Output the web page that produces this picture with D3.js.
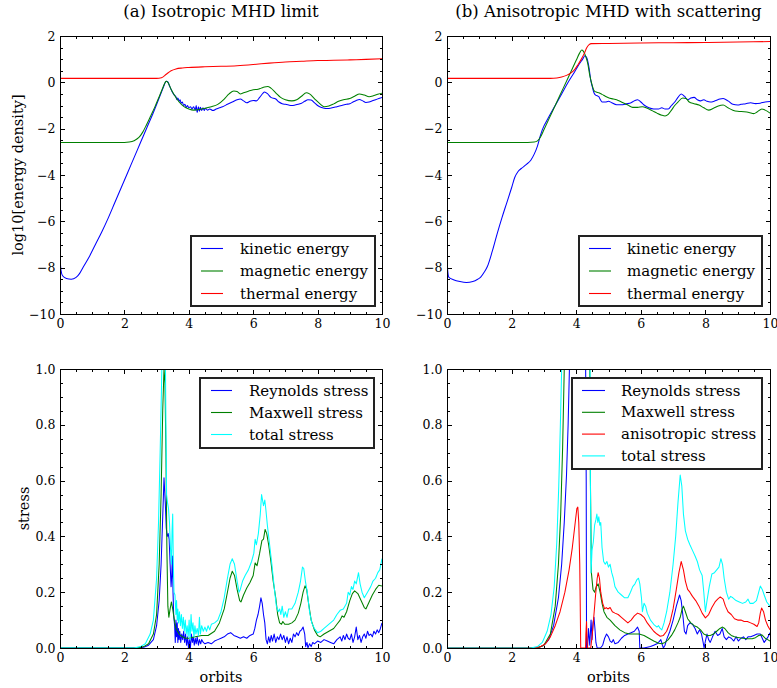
<!DOCTYPE html>
<html>
<head>
<meta charset="utf-8">
<script src="https://cdn.jsdelivr.net/npm/d3@7/dist/d3.min.js"></script>
<style>
  html, body { margin: 0; padding: 0; background: #fff; }
  svg { display: block; font-family: "DejaVu Serif", serif; }
</style>
</head>
<body>
<svg id="fig" width="777" height="688"></svg>
<script>
// ---- axis ticks ----
const orbitTicks = [0, 2, 4, 6, 8, 10];
const orbitTickLabels = ["0", "2", "4", "6", "8", "10"];
const energyTicks = [-10, -8, -6, -4, -2, 0, 2];
const energyTickLabels = ["\u221210", "\u22128", "\u22126", "\u22124", "\u22122", "0", "2"];
const stressTicks = [0, 0.2, 0.4, 0.6, 0.8, 1.0];
const stressTickLabels = ["0.0", "0.2", "0.4", "0.6", "0.8", "1.0"];

// ---- (a) isotropic run: log10 energy density vs orbits ----
const isoKinetic = [[0,-7.6],[0.03,-8.1],[0.08,-8.35],[0.2,-8.47],[0.35,-8.5],[0.5,-8.42],[0.6,-8.27],[0.71,-8.0],[0.9,-7.55],[1.1,-7.0],[1.3,-6.45],[1.5,-5.85],[1.7,-5.2],[1.9,-4.55],[2.1,-3.9],[2.3,-3.25],[2.5,-2.6],[2.7,-1.95],[2.9,-1.3],[3.1,-0.6],[3.2,-0.25],[3.3,0.05],[3.35,0.02],[3.4,-0.15],[3.5,-0.45],[3.55,-0.55],[3.6,-0.62],[3.63,-0.75],[3.66,-0.68],[3.7,-0.82],[3.73,-0.75],[3.76,-0.9],[3.8,-0.85],[3.84,-1.0],[3.88,-0.95],[3.92,-1.08],[3.96,-1.0],[4.0,-1.1],[4.05,-1.05],[4.1,-1.15],[4.15,-1.05],[4.2,-1.2],[4.23,-1.0],[4.26,-1.3],[4.3,-1.05],[4.33,-1.25],[4.36,-1.08],[4.4,-1.22],[4.44,-1.1],[4.48,-1.22],[4.52,-1.12],[4.58,-1.2],[4.65,-1.15],[4.75,-1.22],[4.85,-1.15],[4.95,-1.1],[5.05,-1.05],[5.2,-0.95],[5.35,-0.85],[5.5,-0.75],[5.6,-0.72],[5.7,-0.8],[5.8,-0.88],[5.9,-0.82],[6.0,-0.78],[6.1,-0.8],[6.2,-0.65],[6.3,-0.48],[6.35,-0.42],[6.45,-0.5],[6.55,-0.65],[6.7,-0.72],[6.8,-0.85],[6.9,-0.92],[7.0,-0.95],[7.1,-0.98],[7.2,-1.0],[7.3,-0.98],[7.4,-0.95],[7.5,-0.9],[7.6,-0.82],[7.7,-0.75],[7.8,-0.76],[7.9,-0.88],[8.0,-1.0],[8.1,-1.08],[8.2,-1.12],[8.3,-1.13],[8.45,-1.1],[8.6,-1.05],[8.75,-1.0],[8.9,-0.95],[9.0,-0.92],[9.1,-0.85],[9.2,-0.78],[9.3,-0.74],[9.4,-0.8],[9.5,-0.87],[9.6,-0.85],[9.7,-0.8],[9.8,-0.75],[9.9,-0.7],[10,-0.65]];
const isoMagnetic = [[0,-2.6],[1.0,-2.6],[2.0,-2.6],[2.15,-2.58],[2.3,-2.52],[2.45,-2.38],[2.57,-2.15],[2.68,-1.85],[2.8,-1.5],[2.95,-1.05],[3.08,-0.62],[3.18,-0.28],[3.26,-0.02],[3.3,0.05],[3.35,0.0],[3.45,-0.3],[3.55,-0.55],[3.7,-0.85],[3.85,-1.05],[4.0,-1.15],[4.15,-1.2],[4.3,-1.18],[4.5,-1.12],[4.7,-1.05],[4.9,-0.95],[5.1,-0.72],[5.25,-0.5],[5.4,-0.37],[5.5,-0.4],[5.6,-0.5],[5.7,-0.45],[5.85,-0.38],[6.0,-0.32],[6.15,-0.3],[6.25,-0.25],[6.35,-0.2],[6.45,-0.18],[6.55,-0.25],[6.7,-0.45],[6.85,-0.65],[7.0,-0.75],[7.2,-0.8],[7.35,-0.75],[7.5,-0.6],[7.65,-0.45],[7.75,-0.5],[7.9,-0.7],[8.05,-0.9],[8.2,-1.05],[8.35,-1.02],[8.5,-0.93],[8.65,-0.82],[8.8,-0.75],[9.0,-0.7],[9.15,-0.6],[9.3,-0.5],[9.45,-0.55],[9.6,-0.62],[9.75,-0.57],[9.9,-0.5],[10,-0.47]];
const isoThermal = [[0,0.17],[3.0,0.17],[3.15,0.2],[3.3,0.35],[3.45,0.5],[3.6,0.58],[3.8,0.62],[4.0,0.64],[4.5,0.67],[5.0,0.69],[5.5,0.72],[6.0,0.77],[6.5,0.83],[7.0,0.88],[7.5,0.91],[8.0,0.94],[8.5,0.95],[9.0,0.97],[9.5,0.99],[10,1.02]];

// ---- (b) anisotropic run with scattering ----
const anisoKinetic = [[0,-6.7],[0.02,-8.1],[0.06,-8.42],[0.2,-8.52],[0.4,-8.6],[0.6,-8.64],[0.8,-8.6],[0.95,-8.5],[1.05,-8.4],[1.15,-8.2],[1.25,-7.95],[1.4,-7.3],[1.55,-6.55],[1.7,-5.85],[1.85,-5.2],[2.0,-4.55],[2.1,-4.1],[2.2,-3.85],[2.3,-3.72],[2.45,-3.55],[2.6,-3.35],[2.7,-3.1],[2.8,-2.75],[2.88,-2.35],[2.95,-2.05],[3.15,-1.5],[3.35,-1.0],[3.55,-0.5],[3.75,0.0],[3.95,0.45],[4.1,0.8],[4.2,1.0],[4.27,1.15],[4.33,1.05],[4.4,0.6],[4.45,0.1],[4.5,-0.2],[4.55,-0.45],[4.6,-0.55],[4.65,-0.58],[4.7,-0.62],[4.75,-0.75],[4.8,-0.85],[4.9,-0.85],[5.0,-0.82],[5.1,-0.88],[5.25,-0.97],[5.4,-0.97],[5.55,-0.93],[5.7,-0.88],[5.8,-0.8],[5.9,-0.75],[6.0,-0.85],[6.1,-0.98],[6.25,-1.1],[6.4,-1.15],[6.55,-1.15],[6.65,-1.1],[6.75,-1.15],[6.85,-1.15],[6.95,-1.0],[7.05,-0.85],[7.15,-0.65],[7.25,-0.5],[7.35,-0.6],[7.45,-0.75],[7.55,-0.68],[7.65,-0.65],[7.75,-0.75],[7.85,-0.8],[7.95,-0.75],[8.05,-0.82],[8.15,-0.85],[8.3,-0.8],[8.45,-0.72],[8.55,-0.7],[8.7,-0.8],[8.85,-0.95],[9.0,-0.98],[9.1,-0.95],[9.25,-0.92],[9.4,-0.88],[9.55,-0.92],[9.7,-0.9],[9.85,-0.85],[10,-0.83]];
const anisoMagnetic = [[0,-2.6],[2.5,-2.6],[2.7,-2.58],[2.8,-2.53],[2.9,-2.35],[3.0,-2.05],[3.15,-1.6],[3.3,-1.15],[3.45,-0.7],[3.6,-0.25],[3.75,0.2],[3.9,0.65],[4.0,0.95],[4.1,1.25],[4.17,1.4],[4.22,1.35],[4.3,1.1],[4.36,0.8],[4.42,0.3],[4.5,-0.15],[4.55,-0.35],[4.62,-0.42],[4.7,-0.45],[4.8,-0.52],[4.9,-0.6],[5.0,-0.67],[5.15,-0.72],[5.3,-0.78],[5.45,-0.88],[5.6,-0.98],[5.75,-1.08],[5.9,-1.08],[6.05,-1.05],[6.2,-1.12],[6.35,-1.22],[6.5,-1.33],[6.65,-1.42],[6.75,-1.45],[6.85,-1.38],[6.95,-1.2],[7.05,-1.0],[7.15,-0.85],[7.3,-0.68],[7.4,-0.7],[7.5,-0.85],[7.65,-0.92],[7.8,-0.98],[7.95,-1.1],[8.1,-1.2],[8.25,-1.12],[8.4,-1.02],[8.55,-0.98],[8.7,-1.1],[8.85,-1.2],[9.0,-1.25],[9.2,-1.27],[9.35,-1.3],[9.5,-1.35],[9.6,-1.28],[9.75,-1.15],[9.85,-1.2],[10,-1.33]];
const anisoThermal = [[0,0.17],[3.2,0.17],[3.4,0.19],[3.55,0.23],[3.7,0.3],[3.85,0.42],[3.95,0.55],[4.05,0.75],[4.15,0.98],[4.25,1.25],[4.33,1.5],[4.4,1.63],[4.47,1.67],[5,1.68],[6,1.7],[7,1.71],[8,1.72],[9,1.74],[10,1.76]];

// ---- stresses, isotropic run ----
const isoReynolds = [[0,0],[2.4,0],[2.6,0.003],[2.75,0.01],[2.9,0.03],[3.0,0.08],[3.08,0.17],[3.14,0.3],[3.19,0.47],[3.23,0.61],[3.27,0.52],[3.3,0.43],[3.33,0.4],[3.36,0.41],[3.39,0.39],[3.42,0.3],[3.45,0.22],[3.47,0.26],[3.49,0.33],[3.51,0.2],[3.53,0.12],[3.56,0.08],[3.58,0.02],[3.6,0.1],[3.62,0.04],[3.64,0.09],[3.66,0.02],[3.68,0.07],[3.7,0.03],[3.72,0.06],[3.75,0.02],[3.78,0.05],[3.81,0.03],[3.84,0.06],[3.87,0.02],[3.9,0.05],[3.93,0.01],[3.96,0.04],[3.99,0.0],[4.02,0.03],[4.05,0.0],[4.08,0.05],[4.11,0.02],[4.14,0.04],[4.17,0.01],[4.2,0.035],[4.23,0.015],[4.26,0.04],[4.3,0.01],[4.33,0.03],[4.37,0.015],[4.4,0.03],[4.45,0.02],[4.5,0.015],[4.6,0.02],[4.7,0.015],[4.8,0.025],[4.9,0.03],[5.0,0.035],[5.1,0.04],[5.2,0.05],[5.3,0.055],[5.4,0.045],[5.5,0.04],[5.6,0.035],[5.7,0.04],[5.8,0.035],[5.9,0.045],[6.0,0.05],[6.05,0.07],[6.1,0.1],[6.15,0.12],[6.2,0.15],[6.24,0.18],[6.28,0.16],[6.32,0.12],[6.36,0.09],[6.4,0.03],[6.44,0.015],[6.48,0.04],[6.52,0.02],[6.56,0.045],[6.6,0.025],[6.65,0.05],[6.7,0.02],[6.75,0.04],[6.8,0.03],[6.85,0.05],[6.9,0.03],[6.95,0.045],[7.0,0.02],[7.05,0.04],[7.1,0.015],[7.15,0.035],[7.2,0.02],[7.25,0.05],[7.3,0.04],[7.35,0.055],[7.4,0.045],[7.45,0.06],[7.5,0.065],[7.55,0.075],[7.6,0.05],[7.63,0.005],[7.67,0.02],[7.7,0.0],[7.75,0.015],[7.8,0.005],[7.85,0.02],[7.9,0.015],[8.0,0.025],[8.1,0.02],[8.2,0.03],[8.3,0.025],[8.4,0.02],[8.5,0.015],[8.6,0.03],[8.7,0.04],[8.75,0.025],[8.8,0.045],[8.85,0.03],[8.9,0.05],[8.95,0.035],[9.0,0.03],[9.05,0.05],[9.1,0.02],[9.15,0.04],[9.2,0.075],[9.25,0.03],[9.3,0.045],[9.35,0.02],[9.4,0.04],[9.45,0.05],[9.5,0.035],[9.55,0.06],[9.6,0.045],[9.65,0.05],[9.7,0.04],[9.75,0.06],[9.8,0.05],[9.85,0.065],[9.9,0.055],[9.95,0.07],[10,0.09]];
const isoMaxwell = [[0,0],[2.4,0],[2.6,0.005],[2.75,0.015],[2.9,0.05],[3.0,0.12],[3.08,0.3],[3.14,0.55],[3.19,0.85],[3.23,1.0],[3.26,0.95],[3.29,0.7],[3.32,0.35],[3.35,0.15],[3.38,0.11],[3.42,0.14],[3.46,0.165],[3.5,0.14],[3.55,0.1],[3.6,0.07],[3.7,0.05],[3.8,0.04],[3.9,0.035],[4.0,0.035],[4.2,0.04],[4.4,0.045],[4.6,0.045],[4.8,0.06],[4.95,0.09],[5.1,0.14],[5.2,0.2],[5.28,0.25],[5.35,0.275],[5.42,0.26],[5.5,0.21],[5.58,0.17],[5.62,0.165],[5.7,0.19],[5.8,0.215],[5.9,0.235],[6.0,0.26],[6.06,0.305],[6.12,0.295],[6.2,0.34],[6.27,0.385],[6.32,0.39],[6.37,0.425],[6.42,0.41],[6.48,0.37],[6.55,0.31],[6.62,0.24],[6.7,0.18],[6.76,0.12],[6.82,0.09],[6.88,0.085],[6.92,0.095],[6.98,0.085],[7.1,0.085],[7.2,0.09],[7.3,0.1],[7.4,0.125],[7.48,0.16],[7.55,0.2],[7.61,0.223],[7.66,0.21],[7.72,0.16],[7.8,0.1],[7.9,0.065],[8.0,0.045],[8.08,0.04],[8.2,0.05],[8.35,0.06],[8.5,0.07],[8.6,0.085],[8.7,0.1],[8.76,0.115],[8.82,0.11],[8.9,0.13],[9.0,0.17],[9.08,0.195],[9.15,0.205],[9.25,0.195],[9.35,0.17],[9.45,0.145],[9.5,0.14],[9.6,0.165],[9.7,0.19],[9.8,0.21],[9.9,0.225],[10,0.222]];
const isoTotal = [[0,0],[2.3,0],[2.5,0.005],[2.65,0.015],[2.8,0.05],[2.9,0.1],[3.0,0.25],[3.06,0.45],[3.11,0.7],[3.15,0.92],[3.17,1.05],[3.22,1.2],[3.27,1.08],[3.29,0.8],[3.31,0.55],[3.34,0.52],[3.37,0.5],[3.4,0.45],[3.43,0.36],[3.46,0.3],[3.48,0.42],[3.5,0.48],[3.52,0.3],[3.54,0.2],[3.57,0.19],[3.6,0.12],[3.62,0.17],[3.64,0.1],[3.66,0.14],[3.68,0.09],[3.71,0.13],[3.74,0.08],[3.77,0.12],[3.8,0.07],[3.83,0.11],[3.86,0.06],[3.89,0.1],[3.92,0.05],[3.95,0.08],[3.98,0.04],[4.01,0.1],[4.04,0.03],[4.07,0.12],[4.1,0.06],[4.13,0.09],[4.16,0.04],[4.19,0.08],[4.22,0.05],[4.26,0.07],[4.3,0.045],[4.33,0.11],[4.36,0.05],[4.4,0.08],[4.45,0.06],[4.5,0.075],[4.55,0.06],[4.6,0.08],[4.65,0.065],[4.7,0.085],[4.8,0.09],[4.9,0.1],[5.0,0.13],[5.1,0.18],[5.2,0.25],[5.28,0.3],[5.35,0.32],[5.42,0.3],[5.5,0.24],[5.56,0.2],[5.6,0.21],[5.67,0.24],[5.75,0.26],[5.85,0.28],[5.95,0.31],[6.02,0.34],[6.06,0.39],[6.1,0.37],[6.16,0.41],[6.22,0.48],[6.26,0.55],[6.29,0.53],[6.32,0.51],[6.36,0.53],[6.39,0.5],[6.44,0.44],[6.5,0.38],[6.58,0.3],[6.65,0.22],[6.72,0.15],[6.78,0.13],[6.82,0.14],[6.86,0.12],[6.9,0.15],[6.95,0.11],[7.0,0.13],[7.05,0.11],[7.1,0.14],[7.2,0.14],[7.3,0.16],[7.4,0.2],[7.47,0.24],[7.53,0.29],[7.57,0.285],[7.62,0.24],[7.68,0.2],[7.75,0.13],[7.82,0.09],[7.9,0.07],[8.0,0.055],[8.1,0.06],[8.2,0.07],[8.3,0.08],[8.4,0.09],[8.5,0.1],[8.6,0.12],[8.7,0.135],[8.8,0.14],[8.9,0.16],[8.95,0.2],[9.0,0.19],[9.05,0.22],[9.1,0.21],[9.15,0.24],[9.2,0.23],[9.27,0.27],[9.32,0.23],[9.38,0.2],[9.45,0.18],[9.55,0.2],[9.65,0.22],[9.72,0.24],[9.8,0.25],[9.87,0.27],[9.93,0.28],[10,0.32]];

// ---- stresses, anisotropic run ----
const anisoReynolds = [[0,0],[2.8,0],[3.0,0.01],[3.15,0.03],[3.3,0.08],[3.45,0.18],[3.55,0.3],[3.63,0.45],[3.7,0.62],[3.75,0.8],[3.79,1.0],[3.85,1.3],[4.28,1.3],[4.31,0.6],[4.32,0.0],[4.35,0.0],[4.38,0.07],[4.42,0.01],[4.46,0.1],[4.49,0.03],[4.52,0.09],[4.55,0.11],[4.58,0.07],[4.61,0.02],[4.65,0.0],[4.75,0.0],[4.82,0.01],[4.88,0.035],[4.94,0.05],[5.0,0.04],[5.05,0.025],[5.1,0.02],[5.15,0.03],[5.2,0.015],[5.3,0.02],[5.4,0.035],[5.5,0.045],[5.6,0.05],[5.7,0.055],[5.8,0.06],[5.9,0.075],[5.95,0.06],[5.97,0.0],[6.1,0.0],[6.2,0.003],[6.3,0.005],[6.4,0.01],[6.5,0.015],[6.55,0.02],[6.62,0.03],[6.67,0.01],[6.7,0.0],[6.75,0.01],[6.8,0.03],[6.9,0.06],[7.0,0.1],[7.1,0.15],[7.2,0.19],[7.25,0.17],[7.3,0.12],[7.35,0.06],[7.4,0.05],[7.45,0.08],[7.52,0.09],[7.6,0.085],[7.68,0.07],[7.75,0.05],[7.82,0.065],[7.88,0.05],[7.93,0.02],[7.96,0.0],[8.0,0.025],[8.05,0.05],[8.1,0.03],[8.15,0.02],[8.22,0.04],[8.3,0.06],[8.38,0.045],[8.45,0.05],[8.52,0.07],[8.58,0.04],[8.65,0.03],[8.72,0.04],[8.8,0.035],[8.88,0.025],[8.95,0.04],[9.02,0.025],[9.1,0.035],[9.18,0.04],[9.25,0.03],[9.32,0.04],[9.4,0.04],[9.5,0.045],[9.6,0.05],[9.7,0.05],[9.76,0.035],[9.82,0.02],[9.88,0.03],[9.94,0.04],[10,0.055]];
const anisoMaxwell = [[0,0],[2.8,0],[3.0,0.01],[3.2,0.05],[3.35,0.15],[3.45,0.3],[3.52,0.48],[3.58,0.72],[3.63,1.0],[3.7,1.4],[4.4,1.4],[4.44,0.6],[4.47,0.27],[4.52,0.21],[4.57,0.2],[4.62,0.22],[4.68,0.23],[4.74,0.2],[4.8,0.16],[4.86,0.13],[4.95,0.11],[5.05,0.1],[5.2,0.08],[5.35,0.065],[5.5,0.055],[5.65,0.05],[5.8,0.05],[5.95,0.05],[6.1,0.045],[6.25,0.035],[6.4,0.025],[6.55,0.017],[6.65,0.015],[6.75,0.02],[6.85,0.03],[6.95,0.045],[7.05,0.065],[7.15,0.09],[7.22,0.11],[7.28,0.14],[7.32,0.15],[7.38,0.13],[7.45,0.105],[7.55,0.09],[7.65,0.08],[7.75,0.075],[7.85,0.065],[7.95,0.05],[8.05,0.045],[8.15,0.045],[8.25,0.05],[8.35,0.06],[8.45,0.07],[8.52,0.075],[8.6,0.07],[8.7,0.055],[8.8,0.045],[8.9,0.04],[9.0,0.038],[9.15,0.035],[9.3,0.033],[9.45,0.033],[9.55,0.037],[9.65,0.045],[9.75,0.047],[9.85,0.035],[9.93,0.03],[10,0.025]];
const anisoPressure = [[0,0],[2.7,0],[2.9,0.005],[3.05,0.015],[3.2,0.04],[3.35,0.08],[3.5,0.13],[3.65,0.2],[3.78,0.28],[3.88,0.36],[3.96,0.44],[4.02,0.5],[4.05,0.505],[4.08,0.45],[4.11,0.3],[4.13,0.1],[4.14,0.0],[4.29,0.0],[4.3,0.05],[4.32,0.095],[4.33,0.05],[4.35,0.0],[4.45,0.0],[4.5,0.05],[4.55,0.12],[4.6,0.19],[4.65,0.25],[4.68,0.27],[4.72,0.25],[4.76,0.2],[4.82,0.16],[4.88,0.14],[4.93,0.145],[4.98,0.14],[5.05,0.145],[5.12,0.13],[5.2,0.125],[5.3,0.12],[5.4,0.11],[5.5,0.1],[5.6,0.09],[5.7,0.1],[5.8,0.115],[5.9,0.125],[6.0,0.12],[6.1,0.11],[6.2,0.09],[6.3,0.075],[6.4,0.06],[6.5,0.05],[6.6,0.042],[6.7,0.045],[6.8,0.06],[6.9,0.09],[7.0,0.14],[7.1,0.21],[7.18,0.27],[7.25,0.31],[7.32,0.28],[7.38,0.24],[7.45,0.21],[7.52,0.2],[7.6,0.185],[7.7,0.17],[7.8,0.15],[7.9,0.125],[8.0,0.108],[8.1,0.12],[8.2,0.145],[8.3,0.165],[8.38,0.175],[8.46,0.183],[8.55,0.175],[8.62,0.15],[8.7,0.13],[8.8,0.12],[8.9,0.105],[9.0,0.1],[9.1,0.1],[9.2,0.095],[9.3,0.095],[9.4,0.09],[9.5,0.085],[9.6,0.077],[9.65,0.09],[9.7,0.125],[9.74,0.143],[9.8,0.13],[9.86,0.1],[9.93,0.08],[10,0.065]];
const anisoTotal = [[0,0],[2.6,0],[2.8,0.005],[2.95,0.02],[3.1,0.06],[3.22,0.12],[3.32,0.22],[3.4,0.38],[3.46,0.58],[3.51,0.8],[3.55,1.0],[3.6,1.4],[4.42,1.4],[4.44,0.6],[4.46,0.27],[4.49,0.35],[4.53,0.38],[4.57,0.44],[4.61,0.46],[4.64,0.48],[4.67,0.45],[4.7,0.47],[4.73,0.44],[4.76,0.45],[4.8,0.36],[4.85,0.31],[4.9,0.3],[4.95,0.31],[5.0,0.29],[5.05,0.3],[5.1,0.27],[5.15,0.25],[5.2,0.22],[5.3,0.2],[5.4,0.19],[5.5,0.18],[5.6,0.18],[5.68,0.2],[5.75,0.22],[5.82,0.23],[5.88,0.245],[5.93,0.25],[5.97,0.23],[6.02,0.18],[6.05,0.13],[6.1,0.16],[6.15,0.15],[6.2,0.125],[6.3,0.1],[6.4,0.085],[6.5,0.075],[6.55,0.08],[6.6,0.07],[6.65,0.065],[6.72,0.09],[6.8,0.13],[6.9,0.2],[7.0,0.3],[7.08,0.4],[7.15,0.52],[7.22,0.62],[7.27,0.58],[7.32,0.48],[7.38,0.42],[7.45,0.39],[7.52,0.37],[7.6,0.35],[7.68,0.33],[7.75,0.31],[7.82,0.28],[7.9,0.26],[7.95,0.2],[8.0,0.13],[8.05,0.17],[8.12,0.22],[8.2,0.265],[8.28,0.27],[8.35,0.28],[8.42,0.29],[8.48,0.32],[8.53,0.3],[8.58,0.25],[8.65,0.2],[8.72,0.175],[8.78,0.185],[8.85,0.18],[8.95,0.17],[9.05,0.165],[9.15,0.16],[9.25,0.165],[9.32,0.175],[9.38,0.16],[9.48,0.16],[9.58,0.17],[9.65,0.2],[9.7,0.222],[9.76,0.21],[9.82,0.19],[9.9,0.165],[10,0.15]];

const BLUE = "#0000ff", GREEN = "#008000", RED = "#ff0000", CYAN = "#00ffff";

const svg = d3.select("#fig");

function minorTicks(lo, hi, step) {
  const out = [];
  for (let v = lo; v <= hi + 1e-9; v += step) out.push(+v.toFixed(4));
  return out;
}

// one framed panel with inward ticks on all four sides
function panel(opt) {
  const { id, left, right, top, bottom, ydom, yTicks, yLabels, yMinor, series, legend, smooth } = opt;
  const x = d3.scaleLinear().domain([0, 10]).range([left, right]);
  const y = d3.scaleLinear().domain(ydom).range([bottom, top]);
  const g = svg.append("g");

  g.append("clipPath").attr("id", id).append("rect")
    .attr("x", left).attr("y", top).attr("width", right - left).attr("height", bottom - top);

  const lines = g.append("g").attr("clip-path", `url(#${id})`);
  const line = d3.line().x(d => x(d[0])).y(d => y(d[1]))
    .curve(smooth ? d3.curveMonotoneX : d3.curveLinear);
  series.forEach(s => {
    lines.append("path").datum(s.data)
      .attr("d", line).attr("fill", "none")
      .attr("stroke", s.color).attr("stroke-width", 1.05)
      .attr("stroke-linejoin", "round");
  });

  const xMinor = minorTicks(0, 10, 0.5);
  const axes = g.append("g").attr("shape-rendering", "crispEdges");
  const put = (gen, tx, ty) => {
    const a = axes.append("g").attr("transform", `translate(${tx},${ty})`).call(gen);
    a.select(".domain").remove();
    a.selectAll("line").attr("stroke", "#000");
    return a;
  };
  // bottom
  put(d3.axisBottom(x).tickValues(orbitTicks).tickSizeInner(-4.5).tickSizeOuter(0).tickPadding(5)
      .tickFormat((d, i) => orbitTickLabels[i]), 0, bottom);
  put(d3.axisBottom(x).tickValues(xMinor).tickSize(-2.5).tickFormat(""), 0, bottom);
  // top
  put(d3.axisTop(x).tickValues(orbitTicks).tickSize(-4.5).tickFormat(""), 0, top);
  put(d3.axisTop(x).tickValues(xMinor).tickSize(-2.5).tickFormat(""), 0, top);
  // left
  put(d3.axisLeft(y).tickValues(yTicks).tickSizeInner(-4.5).tickSizeOuter(0).tickPadding(4.5)
      .tickFormat((d, i) => yLabels[i]), left, 0);
  put(d3.axisLeft(y).tickValues(yMinor).tickSize(-2.5).tickFormat(""), left, 0);
  // right
  put(d3.axisRight(y).tickValues(yTicks).tickSize(-4.5).tickFormat(""), right, 0);
  put(d3.axisRight(y).tickValues(yMinor).tickSize(-2.5).tickFormat(""), right, 0);

  axes.selectAll(".tick text").attr("font-family", "DejaVu Serif").attr("font-size", 12.5).attr("fill", "#000");

  g.append("rect").attr("x", left).attr("y", top)
    .attr("width", right - left).attr("height", bottom - top)
    .attr("fill", "none").attr("stroke", "#000").attr("stroke-width", 1)
    .attr("shape-rendering", "crispEdges");

  // legend
  const L = legend;
  const lg = g.append("g");
  lg.append("rect").attr("x", L.x).attr("y", L.y).attr("width", L.w).attr("height", L.h)
    .attr("fill", "#fff").attr("stroke", "#222").attr("stroke-width", 1.2)
    .attr("shape-rendering", "crispEdges");
  series.forEach((s, i) => {
    const ry = L.y + L.first + i * L.step;
    lg.append("line").attr("x1", L.x + L.lx0).attr("x2", L.x + L.lx1)
      .attr("y1", ry).attr("y2", ry).attr("stroke", s.color).attr("stroke-width", 1.1);
    lg.append("text").attr("x", L.x + L.tx).attr("y", ry + 5)
      .attr("font-family", "DejaVu Serif").attr("font-size", 15).attr("fill", "#000").text(s.name);
  });
  return { x, y };
}

const energySeries = (k, m, t) => [
  { name: "kinetic energy", color: BLUE, data: k },
  { name: "magnetic energy", color: GREEN, data: m },
  { name: "thermal energy", color: RED, data: t }
];

const eMinor = minorTicks(-10, 2, 0.5);
const sMinor = minorTicks(0, 1, 0.05);

panel({ id: "c1", left: 60, right: 382, top: 36, bottom: 314, ydom: [-10, 2], smooth: true,
  yTicks: energyTicks, yLabels: energyTickLabels, yMinor: eMinor,
  series: energySeries(isoKinetic, isoMagnetic, isoThermal),
  legend: { x: 191, y: 236, w: 184, h: 70, first: 12.5, step: 22.5, lx0: 10, lx1: 32, tx: 49 } });

panel({ id: "c2", left: 447, right: 770, top: 36, bottom: 314, ydom: [-10, 2], smooth: true,
  yTicks: energyTicks, yLabels: energyTickLabels, yMinor: eMinor,
  series: energySeries(anisoKinetic, anisoMagnetic, anisoThermal),
  legend: { x: 579, y: 236, w: 183, h: 70, first: 12.5, step: 22.5, lx0: 10, lx1: 32, tx: 48 } });

panel({ id: "c3", left: 60, right: 382, top: 369, bottom: 648, ydom: [0, 1],
  yTicks: stressTicks, yLabels: stressTickLabels, yMinor: sMinor,
  series: [
    { name: "Reynolds stress", color: BLUE, data: isoReynolds },
    { name: "Maxwell stress", color: GREEN, data: isoMaxwell },
    { name: "total stress", color: CYAN, data: isoTotal }
  ],
  legend: { x: 200, y: 378, w: 174, h: 70, first: 12.5, step: 22, lx0: 11, lx1: 32, tx: 49 } });

panel({ id: "c4", left: 447, right: 770, top: 369, bottom: 648, ydom: [0, 1],
  yTicks: stressTicks, yLabels: stressTickLabels, yMinor: sMinor,
  series: [
    { name: "Reynolds stress", color: BLUE, data: anisoReynolds },
    { name: "Maxwell stress", color: GREEN, data: anisoMaxwell },
    { name: "anisotropic stress", color: RED, data: anisoPressure },
    { name: "total stress", color: CYAN, data: anisoTotal }
  ],
  legend: { x: 572, y: 378, w: 190, h: 91, first: 12.5, step: 21.8, lx0: 10, lx1: 33, tx: 49 } });

// titles and axis labels
const label = (txt, x, y, size, rot) => {
  const t = svg.append("text").attr("text-anchor", "middle").attr("font-size", size)
    .attr("font-family", "DejaVu Serif").attr("fill", "#000").text(txt);
  if (rot) t.attr("transform", `translate(${x},${y}) rotate(-90)`);
  else t.attr("x", x).attr("y", y);
};
label("(a) Isotropic MHD limit", 221, 17, 16.5);
label("(b) Anisotropic MHD with scattering", 608.5, 17, 16.5);
label("log10[energy density]", 23, 175, 14.5, true);
label("stress", 29, 508.5, 14.5, true);
label("orbits", 221, 682, 14.5);
label("orbits", 608.5, 682, 14.5);
</script>
</body>
</html>
